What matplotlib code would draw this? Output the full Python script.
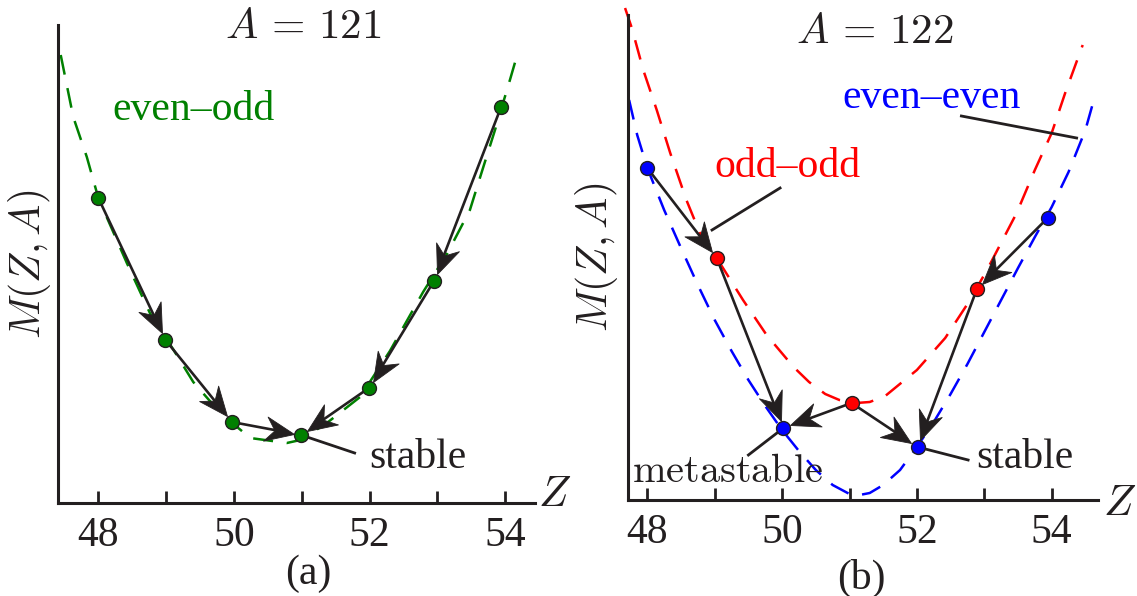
import matplotlib.pyplot as plt
import numpy as np
from matplotlib.path import Path
from matplotlib.markers import MarkerStyle
from matplotlib.transforms import Affine2D

plt.rcParams['font.family'] = ['Liberation Serif', 'DejaVu Serif']
plt.rcParams['mathtext.fontset'] = 'cm'

ink = '#231f20'

# (a) A = 121 : even-odd isobars
z_a = [48, 48.99, 49.97, 50.99, 51.99, 52.95, 53.94]
m_a = [30.5, 16.3, 8.1, 6.8, 11.5, 22.2, 39.6]
# dashed mass parabola
curve_a_z = [47.445, 47.63, 47.83, 48.0, 48.42, 48.76, 49.11, 49.40, 49.80, 50.24,
             50.78, 50.98, 51.37, 51.86, 52.3, 52.79, 53.15, 53.48, 53.65, 53.85,
             54.07, 54.19]
curve_a_m = [44.8, 38.6, 34.6, 30.5, 24.0, 19.0, 15.3, 12.1, 9.0, 6.5,
             6.0, 6.3, 8.0, 10.6, 15.2, 21.1, 25.0, 29.3, 33.0, 37.3,
             42.3, 45.1]
# decay steps (from index -> to index)
steps_a = [(0, 1), (1, 2), (2, 3), (6, 5), (5, 4), (4, 3)]

# (b) A = 122 : even-even and odd-odd isobars
z_ee = [48.0, 50.02, 52.01, 53.94]
m_ee = [33.2, 7.2, 5.3, 28.2]
z_oo = [49.03, 51.03, 52.89]
m_oo = [24.2, 9.7, 21.1]
curve_ee_z = [47.73, 47.85, 48.0, 48.25, 48.5, 48.75, 49.0, 49.25, 49.5, 49.75,
              50.0, 50.25, 50.5, 50.75, 51.0, 51.15, 51.3, 51.5, 51.75, 52.0,
              52.25, 52.5, 52.75, 53.0, 53.25, 53.5, 53.75, 54.0, 54.25, 54.5, 54.6]
curve_ee_m = [40.0, 36.5, 33.2, 29.0, 25.2, 21.5, 18.0, 14.9, 12.0, 9.4,
              7.0, 4.9, 3.0, 1.5, 0.6, 0.5, 0.7, 1.5, 3.0, 5.3,
              7.8, 10.6, 13.6, 16.8, 20.0, 23.2, 26.3, 29.3, 32.8, 37.0, 39.4]
curve_oo_z = [47.67, 47.77, 47.94, 48.14, 48.34, 48.58, 48.78, 49.03, 49.42, 49.77,
              50.17, 50.4, 50.64, 50.85, 51.1, 51.3, 51.53, 52.0, 52.42, 52.76,
              53.04, 53.48, 53.75, 54.0, 54.2, 54.46]
curve_oo_m = [49.2, 47.2, 43.0, 39.0, 34.7, 30.0, 26.7, 24.2, 20.0, 16.5,
              13.3, 11.8, 10.6, 10.0, 9.7, 9.8, 10.4, 13.0, 16.2, 19.7,
              23.0, 28.7, 33.0, 36.7, 40.7, 45.5]
# chain sorted by Z: ee48, oo49, ee50, oo51, ee52, oo53, ee54
chain_z = [z_ee[0], z_oo[0], z_ee[1], z_oo[1], z_ee[2], z_oo[2], z_ee[3]]
chain_m = [m_ee[0], m_oo[0], m_ee[1], m_oo[1], m_ee[2], m_oo[2], m_ee[3]]
steps_b = [(0, 1), (1, 2), (3, 2), (3, 4), (5, 4), (6, 5)]

W, H = 1137, 596
fig = plt.figure(figsize=(W / 100, H / 100), dpi=100)

# swept-back arrow head, tip at origin pointing along +x
head = Path([(0, 0), (-1, 0.42), (-0.68, 0), (-1, -0.42), (0, 0)],
            [Path.MOVETO, Path.LINETO, Path.LINETO, Path.LINETO, Path.CLOSEPOLY])


def setup(ax, xlim, ylim):
    ax.set_xlim(*xlim)
    ax.set_ylim(*ylim)
    for s in ['top', 'right']:
        ax.spines[s].set_visible(False)
    for s in ['left', 'bottom']:
        ax.spines[s].set_linewidth(2.2)
        ax.spines[s].set_color(ink)
    ax.set_xticks([48, 50, 52, 54])
    ax.set_xticks([49, 51, 53], minor=True)
    ax.tick_params(axis='x', which='both', direction='in', length=8.6, width=2.0,
                   color=ink, labelcolor=ink, labelsize=30, pad=10)
    ax.set_yticks([])
    ax.set_ylabel(r'$M(Z,A)$', fontsize=30, color=ink, va='center')
    ax.patch.set_alpha(0)


def arrow(ax, p0, p1):
    a = ax.transData.transform(p0)
    b = ax.transData.transform(p1)
    d = b - a
    u = d / np.hypot(*d)
    inv = ax.transData.inverted()
    tip = inv.transform(b - u * 7.5)
    end = inv.transform(b - u * 22)
    ax.plot([p0[0], end[0]], [p0[1], end[1]], color=ink, lw=1.9, zorder=3,
            solid_capstyle='butt')
    mk_head = MarkerStyle(head, transform=Affine2D().rotate(np.arctan2(d[1], d[0])))
    ax.plot([tip[0]], [tip[1]], marker=mk_head, ms=42, mfc=ink, mec=ink, mew=0.6,
            ls='none', zorder=4)


def line(ax, p0, p1):
    ax.plot([p0[0], p1[0]], [p0[1], p1[1]], color=ink, lw=2.0, zorder=2, clip_on=False)


dash = (0, (8, 5.5))
mk = dict(marker='o', ms=10, mec=ink, mew=1.0, ls='none', zorder=5, clip_on=False)

# ---- panel (a)
ax1 = fig.add_axes([58 / W, 1 - 503 / H, 477 / W, 478 / H])
setup(ax1, (47.405, 54.44), (0, 47.8))
ax1.yaxis.set_label_coords(-0.059, 0.5)
ax1.plot(curve_a_z, curve_a_m, color='#008000', lw=1.8, ls=dash, clip_on=False, zorder=1)
for i, j in steps_a:
    arrow(ax1, (z_a[i], m_a[i]), (z_a[j], m_a[j]))
ax1.plot(z_a, m_a, mfc='#008000', **mk)
line(ax1, (z_a[3], m_a[3]), (51.78, 5.0))
ax1.text(48.2, 38.3, 'even\u2013odd', color='#008000', fontsize=30, va='baseline')
ax1.text(51.99, 3.5, 'stable', color=ink, fontsize=30, va='baseline')

# ---- panel (b)
ax2 = fig.add_axes([628.3 / W, 1 - 500 / H, 469.7 / W, 485 / H])
setup(ax2, (47.718, 54.687), (0, 48.5))
ax2.yaxis.set_label_coords(-0.067, 0.5)
ax2.plot(curve_oo_z, curve_oo_m, color='#ff0000', lw=1.8, ls=dash, clip_on=False, zorder=1)
ax2.plot(curve_ee_z, curve_ee_m, color='#0000ff', lw=1.8, ls=dash, clip_on=False, zorder=1)
for i, j in steps_b:
    arrow(ax2, (chain_z[i], chain_m[i]), (chain_z[j], chain_m[j]))
ax2.plot(z_ee, m_ee, mfc='#0000ff', **mk)
ax2.plot(z_oo, m_oo, mfc='#ff0000', **mk)
line(ax2, (48.96, 27.0), (49.97, 31.2))
line(ax2, (52.66, 38.4), (54.37, 36.2))
line(ax2, (z_ee[1], m_ee[1]), (49.5, 4.5))
line(ax2, (z_ee[2], m_ee[2]), (52.76, 4.0))
ax2.text(49.0, 32.3, 'odd\u2013odd', color='#ff0000', fontsize=30, va='baseline')
ax2.text(50.89, 39.2, 'even\u2013even', color='#0000ff', fontsize=30, va='baseline')
ax2.text(52.88, 3.2, 'stable', color=ink, fontsize=30, va='baseline')
ax2.text(47.77, 1.8, r'$\mathrm{metastable}$', color=ink, fontsize=29, va='baseline')

# titles, axis names and panel tags
fig.text(303 / W, 1 - 38 / H, r'$A\,=\,121$', fontsize=31, color=ink, ha='center', va='baseline')
fig.text(875 / W, 1 - 43 / H, r'$A\,=\,122$', fontsize=31, color=ink, ha='center', va='baseline')
fig.text(555 / W, 1 - 496 / H, r'$Z$', fontsize=31, color=ink, ha='center', va='center')
fig.text(1120 / W, 1 - 505 / H, r'$Z$', fontsize=31, color=ink, ha='center', va='center')
fig.text(308 / W, 1 - 574 / H, '(a)', fontsize=30, color=ink, ha='center', va='center')
fig.text(861 / W, 1 - 578 / H, '(b)', fontsize=30, color=ink, ha='center', va='center')

fig.savefig('out.png', dpi=100, facecolor='white')
